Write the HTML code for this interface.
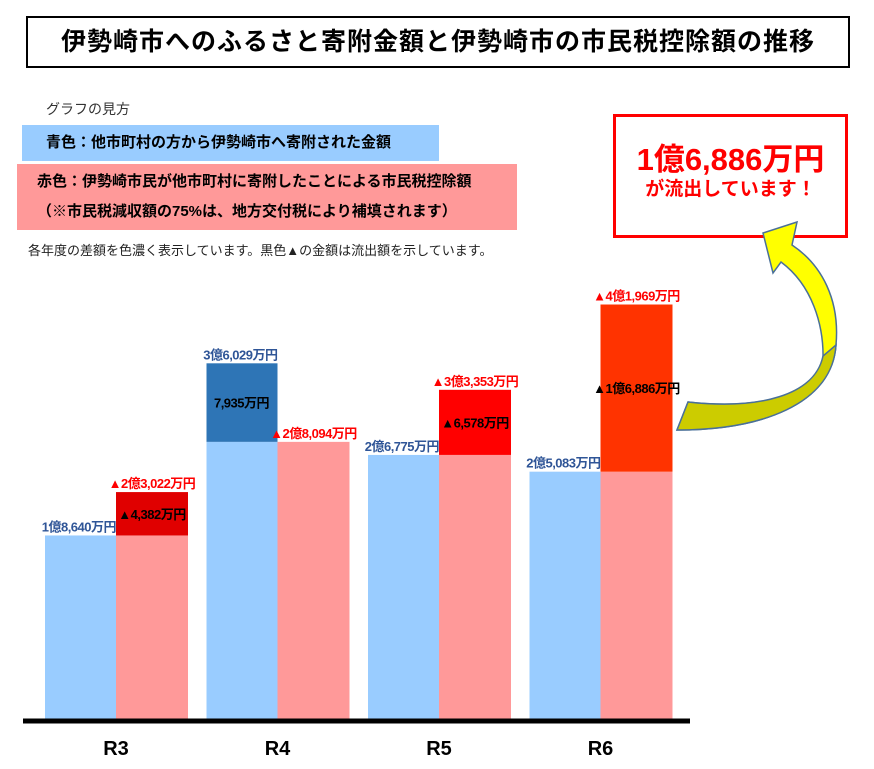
<!DOCTYPE html>
<html><head><meta charset="utf-8"><style>
body{margin:0;background:#fff;width:874px;height:769px;overflow:hidden;position:relative;font-family:"Liberation Sans","Noto Sans CJK JP",sans-serif}
.abs{position:absolute}
</style></head><body>
<div class="abs" style="left:26px;top:16px;width:824px;height:52px;border:2px solid #000;box-sizing:border-box;text-align:center;font-size:25px;font-weight:bold;line-height:48px;letter-spacing:1px">伊勢崎市へのふるさと寄附金額と伊勢崎市の市民税控除額の推移</div>
<div class="abs" style="left:46px;top:99px;font-size:14px;color:#333">グラフの見方</div>
<div class="abs" style="left:22px;top:125px;height:36px;background:#99ccff;font-size:15px;font-weight:bold;line-height:36px;padding-left:24px;box-sizing:border-box;width:417px">青色：他市町村の方から伊勢崎市へ寄附された金額</div>
<div class="abs" style="left:17px;top:164px;width:500px;height:66px;background:#ff9999;font-size:15px;font-weight:bold;line-height:30px;padding:3px 0 0 20px;box-sizing:border-box">赤色：伊勢崎市民が他市町村に寄附したことによる市民税控除額<br>（※市民税減収額の75%は、地方交付税により補填されます）</div>
<div class="abs" style="left:28px;top:240px;font-size:13px;color:#222">各年度の差額を色濃く表示しています。黒色▲の金額は流出額を示しています。</div>
<div class="abs" style="left:613px;top:114px;width:235px;height:124px;border:3px solid #f00;box-sizing:border-box;text-align:center;color:#f00">
<div style="font-size:31px;font-weight:bold;margin-top:26px;line-height:34px">1億6,886万円</div>
<div style="font-size:19px;font-weight:bold;line-height:26px">が流出しています！</div></div>
<svg class="abs" style="left:0;top:0" width="874" height="769" id="chart">
<path d="M797,222 L763,233 L773,273 L781,262 C812,285 824,325 823,360 C815,395 760,410 688,402 L677,430 C760,430 832,405 836,345 C840,300 822,265 792,245 Z" fill="#ffff00" stroke="#4a7098" stroke-width="1.5"/>
<path d="M823,356 C815,395 760,410 688,402 L677,430 C760,430 832,405 836,345 Z" fill="#cccc00" stroke="#4a7098" stroke-width="1.5"/>
</svg>
<script>
const categories=["R3","R4","R5","R6"];
const donations=[18640,36029,26775,25083];
const deductions=[23022,28094,33353,41969];
const donationLabels=["1億8,640万円","3億6,029万円","2億6,775万円","2億5,083万円"];
const deductionLabels=["▲2億3,022万円","▲2億8,094万円","▲3億3,353万円","▲4億1,969万円"];
const diffLabels=["▲4,382万円","7,935万円","▲6,578万円","▲1億6,886万円"];
const svg=document.getElementById('chart');
const NS="http://www.w3.org/2000/svg";
const base=720,k=0.0099;
function y(v){return base-v*k;}
function x(i){return 45+i*161.5;}
function mk(t,a){const e=document.createElementNS(NS,t);for(const n in a)e.setAttribute(n,a[n]);svg.appendChild(e);return e;}
const darkRed=["#e00000","#ff0000","#ff0000","#ff3300"];
categories.forEach((c,i)=>{
  const b=donations[i],r=deductions[i],m=Math.min(b,r),x0=x(i),bw=71;
  let e=mk('rect',{x:x0,y:y(m),width:bw,height:base-y(m),fill:'#99ccff'});
  
  e=mk('rect',{x:x0+bw,y:y(m),width:72,height:base-y(m),fill:'#ff9999'});
  
  let dx,dc;
  if(b>r){dx=x0;dc='#2e75b6';}else{dx=x0+bw;dc=darkRed[i];}
  e=mk('rect',{x:dx,y:y(Math.max(b,r)),width:dx===x0?bw:72,height:y(m)-y(Math.max(b,r)),fill:dc});
  
  const f='font-family:"Liberation Sans Narrow","Liberation Sans","Noto Sans CJK JP",sans-serif;font-weight:bold;letter-spacing:-0.5px';
  e=mk('text',{x:x0+bw,y:y(b)-4,'text-anchor':'end','font-size':13,fill:'#2f5597',style:f});e.textContent=donationLabels[i];
  
  e=mk('text',{x:x0+bw+36,y:y(r)-4,'text-anchor':'middle','font-size':13,fill:'#ff0000',style:f});e.textContent=deductionLabels[i];
  
  const mid=(y(m)+y(Math.max(b,r)))/2+5;
  e=mk('text',{x:(dx===x0?x0+35:x0+bw+36),y:mid,'text-anchor':'middle','font-size':13,fill:'#000',style:f});e.textContent=diffLabels[i];
  
  e=mk('text',{x:x0+71,y:755,'text-anchor':'middle','font-size':20,'font-weight':'bold',fill:'#000',style:'font-family:"Liberation Sans Narrow","Liberation Sans",sans-serif'});e.textContent=c;
  
});
const ax=mk('line',{x1:23,y1:721,x2:690,y2:721,stroke:'#000','stroke-width':5});


</script>
</body></html>
